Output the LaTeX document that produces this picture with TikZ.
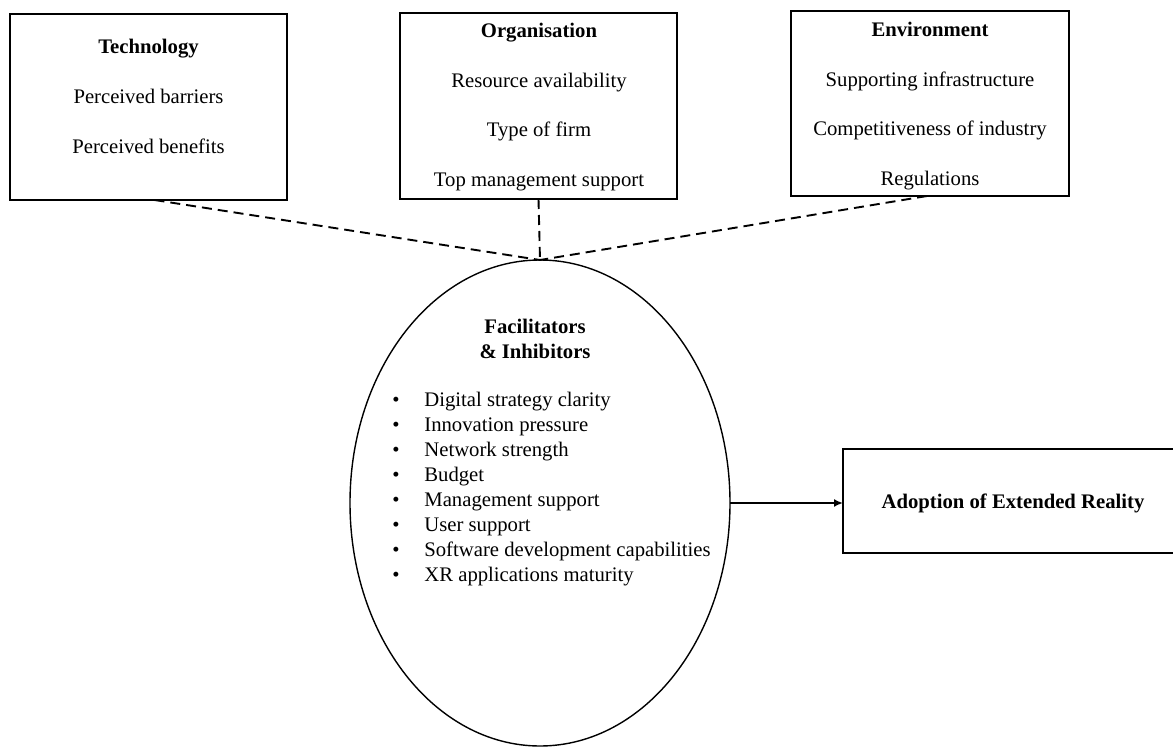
\documentclass[tikz,border=0pt]{standalone}
\usepackage{fontspec}
\setmainfont{Liberation Serif}
\usetikzlibrary{shapes.geometric,arrows.meta}
\begin{document}
\begin{tikzpicture}[x=0.5pt,y=-0.5pt,
  box/.style={draw,line width=0.9pt,rectangle,inner sep=0pt,outer sep=0pt},
  txt/.style={align=center,inner sep=0pt,font=\fontsize{10.35pt}{24.85pt}\selectfont},
  conn/.style={line width=0.95pt,dash pattern=on 5pt off 3pt},
  arr/.style={line width=0.85pt,-{Latex[length=4.5pt,width=4pt]}}]
\useasboundingbox (0,0) rectangle (1173,749);
\clip (0,0) rectangle (1173,749);
% boxes
\node[box,minimum width=138.5pt,minimum height=93pt] (tech) at (148.5,107) {};
\node[box,minimum width=138.5pt,minimum height=93pt] (org) at (538.5,106) {};
\node[box,minimum width=139pt,minimum height=92.5pt] (env) at (930,103.5) {};
\node[box,minimum width=170pt,minimum height=52pt] (adopt) at (1013,501) {};
% box texts
\node[txt] (techtxt) at (148.5,96.5) {\textbf{Technology}\\Perceived barriers\\Perceived benefits};
\node[txt] (orgtxt) at (539,107) {\textbf{Organisation}\\Resource availability\\Type of firm\\Top management support};
\node[txt] (envtxt) at (930,106) {\textbf{Environment}\\Supporting infrastructure\\Competitiveness of industry\\Regulations};
\node[txt,font=\fontsize{10.35pt}{12.4pt}\selectfont\bfseries] (adopttxt) at (1013,503) {Adoption of Extended Reality};
% ellipse
\node[draw,ellipse,line width=0.7pt,inner sep=0pt,outer sep=0pt,minimum width=190pt,minimum height=243pt] (ell) at (540,503) {};
\node[txt,font=\fontsize{10.35pt}{12.5pt}\selectfont\bfseries] (elltitle) at (535,339) {Facilitators\\\& Inhibitors};
\node[inner sep=0pt,anchor=west,align=left,font=\fontsize{10.35pt}{12.45pt}\selectfont] (elllist) at (392,489) {%
\makebox[16pt][l]{•}Digital strategy clarity\\
\makebox[16pt][l]{•}Innovation pressure\\
\makebox[16pt][l]{•}Network strength\\
\makebox[16pt][l]{•}Budget\\
\makebox[16pt][l]{•}Management support\\
\makebox[16pt][l]{•}User support\\
\makebox[16pt][l]{•}Software development capabilities\\
\makebox[16pt][l]{•}XR applications maturity};
% connectors
\draw[conn] ([xshift=3pt]tech.south) -- (ell.north);
\draw[conn] (org.south) -- (ell.north);
\draw[conn] ([xshift=-1.5pt]env.south) -- (ell.north);
\draw[arr] (ell.east) -- (ell.east -| adopt.west);
\end{tikzpicture}
\end{document}
